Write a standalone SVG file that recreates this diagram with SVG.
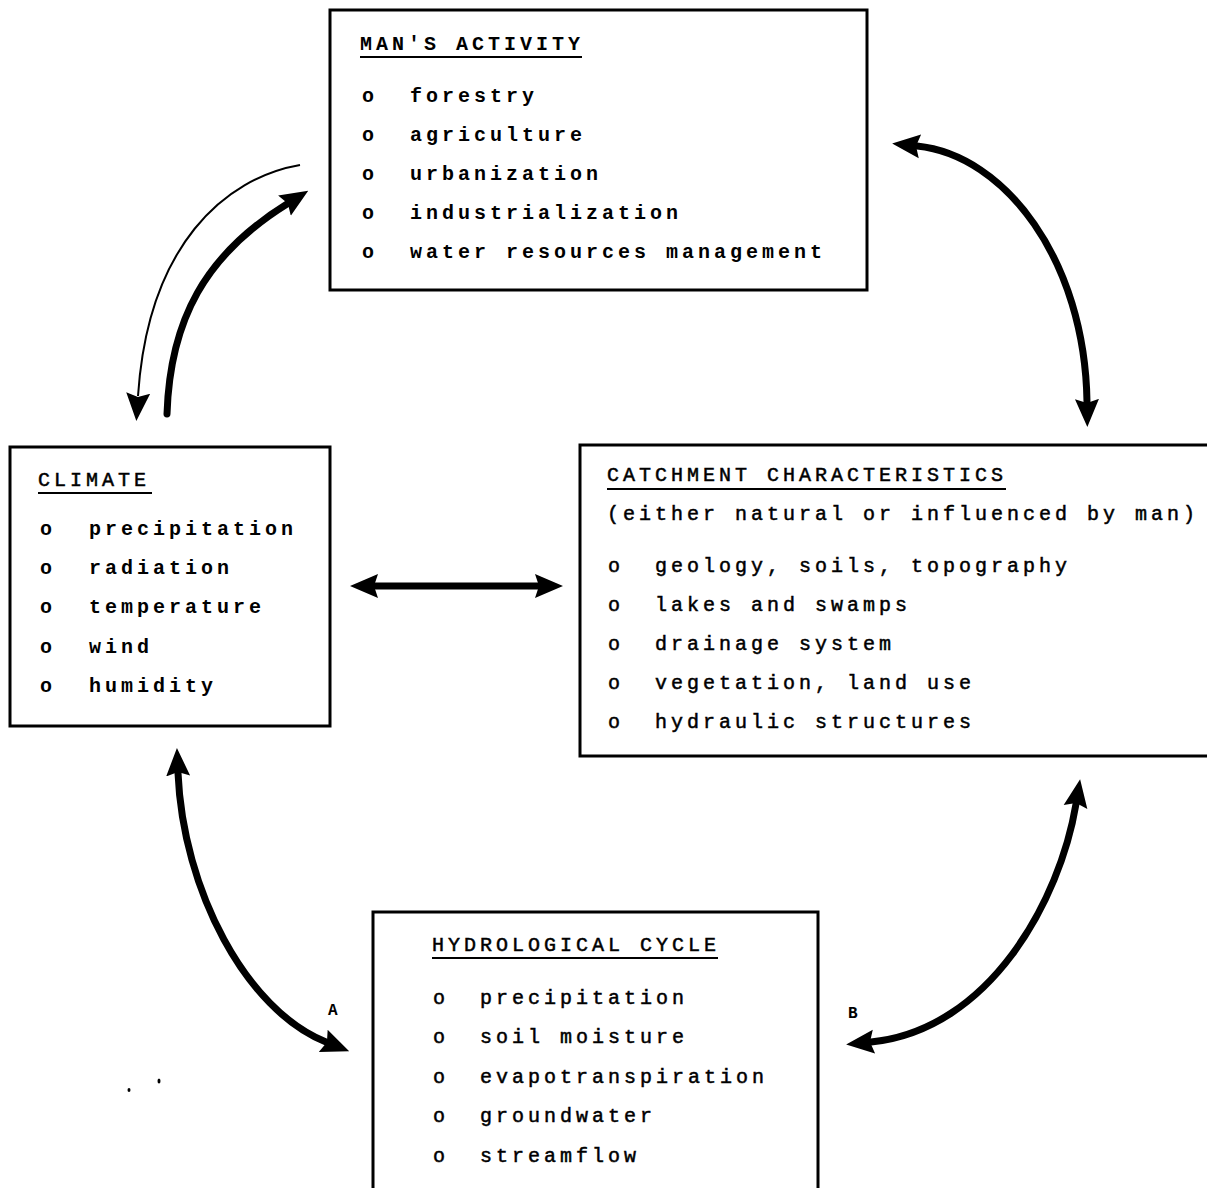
<svg xmlns="http://www.w3.org/2000/svg" width="1207" height="1188" viewBox="0 0 1207 1188">
<style>
.box{fill:#fff;stroke:#000;stroke-width:3}
.t{font-family:"Liberation Mono","DejaVu Sans Mono",monospace;font-size:20px;letter-spacing:4px;fill:#000}
.b{font-weight:bold}
.n{stroke:#000;stroke-width:0.5}
.ul{stroke:#000;stroke-width:2}
.thick{fill:none;stroke:#000;stroke-width:7;stroke-linecap:round}
.thin{fill:none;stroke:#000;stroke-width:2}
.lbl{font-family:"Liberation Mono","DejaVu Sans Mono",monospace;font-size:16px;font-weight:bold;fill:#000}
</style>
<defs>
<marker id="ah" viewBox="0 0 28 26" refX="3" refY="13" markerWidth="28" markerHeight="26" markerUnits="userSpaceOnUse" orient="auto-start-reverse">
<path d="M0,1 L28,13 L0,25 L4,13 z" fill="#000"/>
</marker>
</defs>
<rect width="1207" height="1188" fill="#fff"/>

<g id="mans-activity">
<rect class="box" x="330" y="10" width="537" height="280"/>
<text class="t b" x="360" y="50">MAN'S ACTIVITY</text>
<line class="ul" x1="360" y1="57" x2="582" y2="57"/>
<g class="t b">
<text x="362" y="102">o</text><text x="410" y="102">forestry</text>
<text x="362" y="141">o</text><text x="410" y="141">agriculture</text>
<text x="362" y="180">o</text><text x="410" y="180">urbanization</text>
<text x="362" y="219">o</text><text x="410" y="219">industrialization</text>
<text x="362" y="258">o</text><text x="410" y="258">water resources management</text>
</g>
</g>

<g id="climate">
<rect class="box" x="10" y="447" width="320" height="279"/>
<text class="t n" x="38" y="486">CLIMATE</text>
<line class="ul" x1="38" y1="493" x2="152" y2="493"/>
<g class="t b">
<text x="40" y="535">o</text><text x="89" y="535">precipitation</text>
<text x="40" y="574">o</text><text x="89" y="574">radiation</text>
<text x="40" y="613">o</text><text x="89" y="613">temperature</text>
<text x="40" y="653">o</text><text x="89" y="653">wind</text>
<text x="40" y="692">o</text><text x="89" y="692">humidity</text>
</g>
</g>

<g id="catchment">
<rect class="box" x="580" y="445" width="640" height="311"/>
<text class="t n" x="607" y="481">CATCHMENT CHARACTERISTICS</text>
<line class="ul" x1="607" y1="489" x2="1006" y2="489"/>
<text class="t n" x="607" y="520">(either natural or influenced by man)</text>
<g class="t n">
<text x="608" y="572">o</text><text x="655" y="572">geology, soils, topography</text>
<text x="608" y="611">o</text><text x="655" y="611">lakes and swamps</text>
<text x="608" y="650">o</text><text x="655" y="650">drainage system</text>
<text x="608" y="689">o</text><text x="655" y="689">vegetation, land use</text>
<text x="608" y="728">o</text><text x="655" y="728">hydraulic structures</text>
</g>
</g>

<g id="hydrological-cycle">
<rect class="box" x="373" y="912" width="445" height="290"/>
<text class="t n" x="432" y="951">HYDROLOGICAL CYCLE</text>
<line class="ul" x1="432" y1="958" x2="718" y2="958"/>
<g class="t n">
<text x="433" y="1004">o</text><text x="480" y="1004">precipitation</text>
<text x="433" y="1043">o</text><text x="480" y="1043">soil moisture</text>
<text x="433" y="1083">o</text><text x="480" y="1083">evapotranspiration</text>
<text x="433" y="1122">o</text><text x="480" y="1122">groundwater</text>
<text x="433" y="1162">o</text><text x="480" y="1162">streamflow</text>
</g>
</g>

<g id="connectors">
<path class="thin" d="M300,165 C225,178 148,245 138,396" marker-end="url(#ah)"/>
<path class="thick" d="M167,414 C170,320 205,255 287,204" marker-end="url(#ah)"/>
<path class="thick" d="M917,146 C1005,155 1085,260 1087,402" marker-start="url(#ah)" marker-end="url(#ah)"/>
<path class="thick" d="M375,586 L538,586" marker-start="url(#ah)" marker-end="url(#ah)"/>
<path class="thick" d="M178,773 C183,890 246,1010 326,1042" marker-start="url(#ah)" marker-end="url(#ah)"/>
<path class="thick" d="M1076,804 C1060,900 990,1030 871,1042" marker-start="url(#ah)" marker-end="url(#ah)"/>
<text class="lbl" x="328" y="1015">A</text>
<text class="lbl" x="848" y="1018">B</text>
</g>
<g id="specks" fill="#000">
<ellipse cx="129" cy="1090" rx="1.5" ry="2"/>
<ellipse cx="159" cy="1081" rx="1.5" ry="2.5"/>
</g>
</svg>
